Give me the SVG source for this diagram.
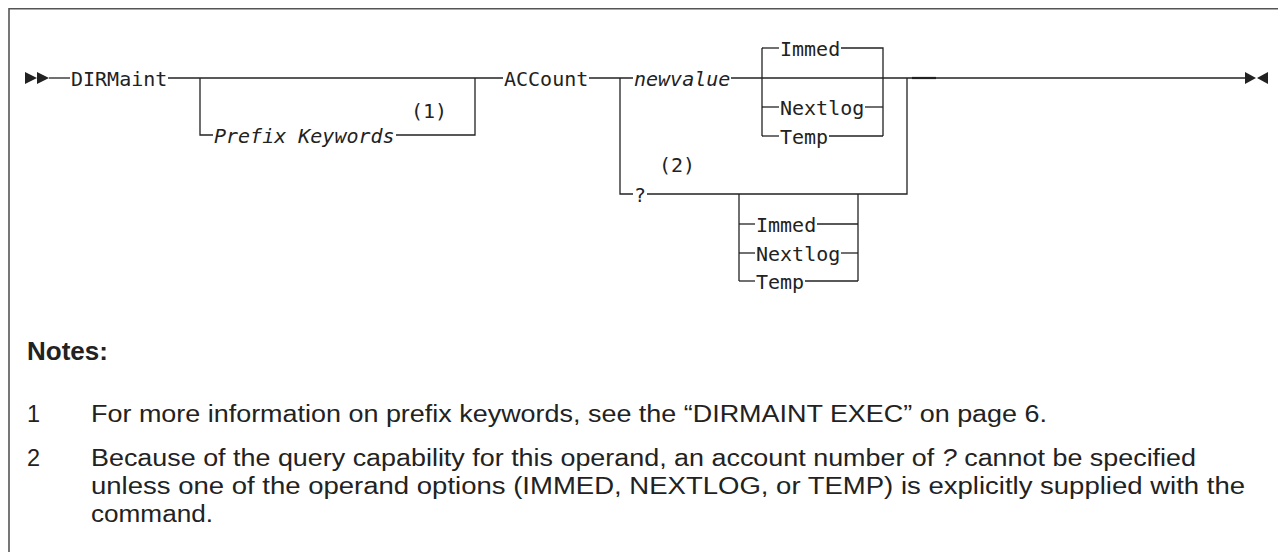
<svg xmlns="http://www.w3.org/2000/svg" width="1278" height="552" viewBox="0 0 1278 552">
<style>
.bg{fill:#fff}
.frame{fill:none;stroke:#555;stroke-width:1.6}
.ln{fill:none;stroke:#222;stroke-width:1.3}
.mono{font-family:"DejaVu Sans Mono","Liberation Mono",monospace;font-size:20px;fill:#222}
.it{font-style:italic}
.note{font-family:"Liberation Sans",Arial,sans-serif;font-size:23.5px;fill:#222}
.hd{font-family:"Liberation Sans",Arial,sans-serif;font-size:26px;font-weight:bold;fill:#222}
.mk{fill:#222}
</style>
<rect class="bg" x="0" y="0" width="1278" height="552"/>
<path class="frame" d="M9 552 V8.7 H1278"/>
<g id="connectors">
  <polygon class="mk" points="25,72 37,78 25,84"/>
  <polygon class="mk" points="37,72 49,78 37,84"/>
  <path class="ln" d="M49 78 H70"/>
  <path class="ln" d="M168 78 H503"/>
  <path class="ln" d="M200 78 V135 H213"/>
  <path class="ln" d="M396 135 H475 V78"/>
  <path class="ln" d="M589 78 H633"/>
  <path class="ln" d="M731 78 H1245"/>
  <path class="ln" d="M912 78 H936" style="stroke-width:2.2"/>
  <path class="ln" d="M620 78 V194 H633"/>
  <path class="ln" d="M647 194 H907 V78"/>
  <path class="ln" d="M762 48 V136"/>
  <path class="ln" d="M762 48 H779"/>
  <path class="ln" d="M841 48 H883 V136"/>
  <path class="ln" d="M762 107 H779"/>
  <path class="ln" d="M865 107 H883"/>
  <path class="ln" d="M762 136 H779"/>
  <path class="ln" d="M829 136 H883"/>
  <path class="ln" d="M739 194 V281"/>
  <path class="ln" d="M858 194 V281"/>
  <path class="ln" d="M739 224 H755"/>
  <path class="ln" d="M817 224 H858"/>
  <path class="ln" d="M739 253 H755"/>
  <path class="ln" d="M841 253 H858"/>
  <path class="ln" d="M739 281 H755"/>
  <path class="ln" d="M805 281 H858"/>
  <polygon class="mk" points="1245,72 1256,78 1245,84"/>
  <polygon class="mk" points="1268,72 1257,78 1268,84"/>
</g>
<g id="n-dirmaint"><text class="mono" x="71" y="85.5">DIRMaint</text></g>
<g id="n-prefix"><text class="mono it" x="214" y="142.5">Prefix Keywords</text></g>
<g id="n-note1"><text class="mono" x="411" y="118">(1)</text></g>
<g id="n-account"><text class="mono" x="504" y="85.5">ACCount</text></g>
<g id="n-newvalue"><text class="mono it" x="634" y="85.5">newvalue</text></g>
<g id="n-immed1"><text class="mono" x="780" y="55.5">Immed</text></g>
<g id="n-nextlog1"><text class="mono" x="780" y="114.5">Nextlog</text></g>
<g id="n-temp1"><text class="mono" x="780" y="143.5">Temp</text></g>
<g id="n-query"><text class="mono" x="634" y="201.5">?</text></g>
<g id="n-note2"><text class="mono" x="659" y="172">(2)</text></g>
<g id="n-immed2"><text class="mono" x="756" y="231.5">Immed</text></g>
<g id="n-nextlog2"><text class="mono" x="756" y="260.5">Nextlog</text></g>
<g id="n-temp2"><text class="mono" x="756" y="288.5">Temp</text></g>
<g id="notes">
  <text class="hd" x="27" y="360">Notes:</text>
  <text class="note" x="27" y="422">1</text>
  <text class="note" x="91" y="422" textLength="956" lengthAdjust="spacingAndGlyphs">For more information on prefix keywords, see the “DIRMAINT EXEC” on page 6.</text>
  <text class="note" x="27" y="466">2</text>
  <text class="note" x="91" y="466" textLength="1105" lengthAdjust="spacingAndGlyphs">Because of the query capability for this operand, an account number of <tspan font-style="italic">?</tspan> cannot be specified</text>
  <text class="note" x="91" y="494" textLength="1154" lengthAdjust="spacingAndGlyphs">unless one of the operand options (IMMED, NEXTLOG, or TEMP) is explicitly supplied with the</text>
  <text class="note" x="91" y="522" textLength="122" lengthAdjust="spacingAndGlyphs">command.</text>
</g>
</svg>
